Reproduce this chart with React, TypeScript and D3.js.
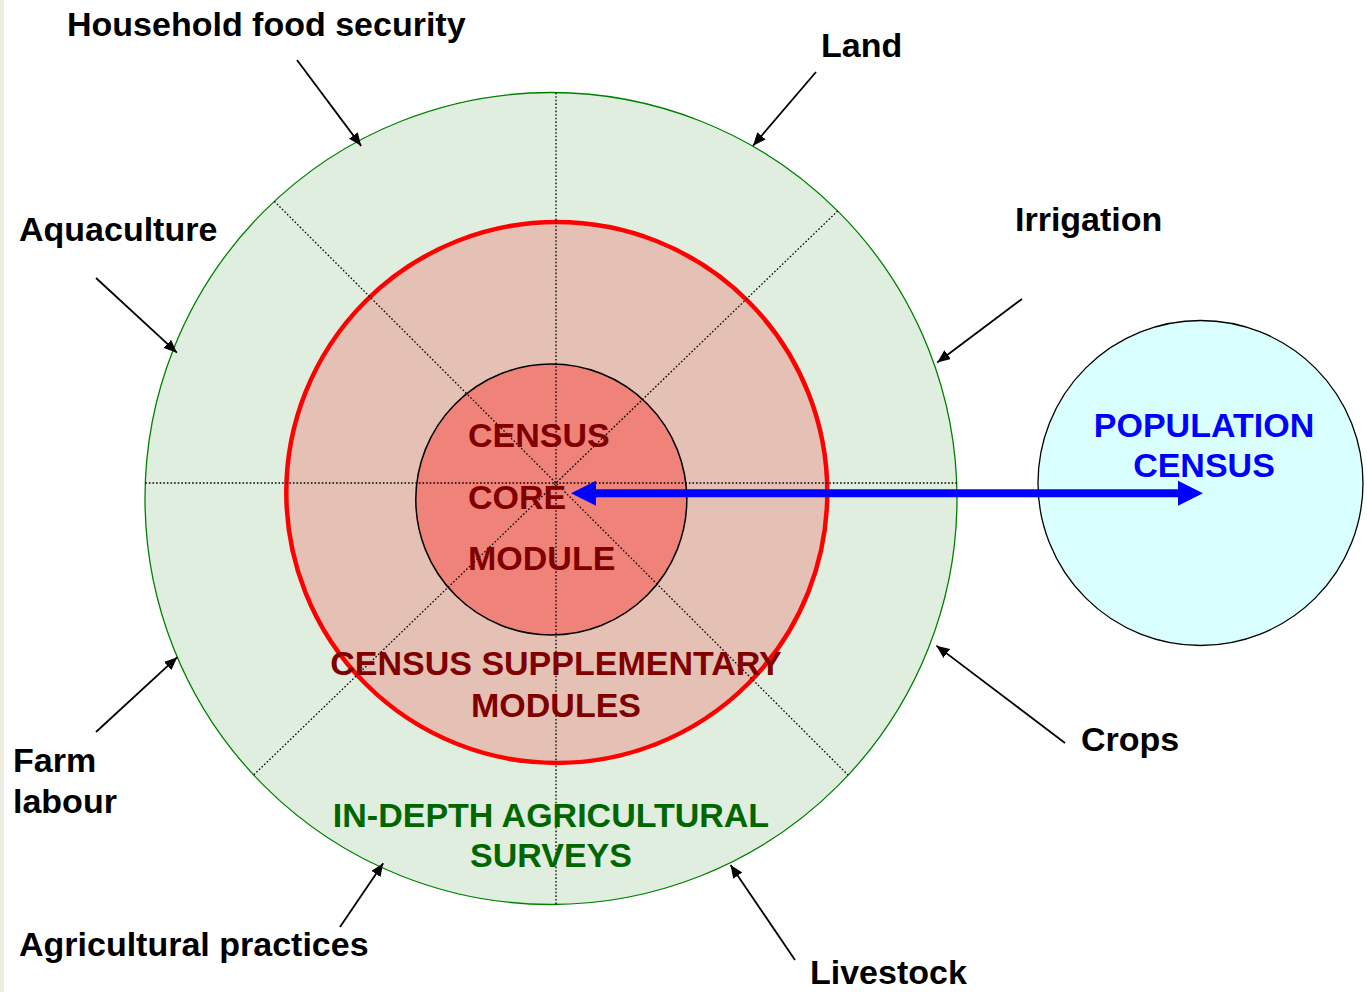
import * as d3 from "d3";

// survey topics placed around the outer ring ("\n" = line break)
const topics = [
  "Household food security",
  "Land",
  "Irrigation",
  "Crops",
  "Livestock",
  "Agricultural practices",
  "Farm\nlabour",
  "Aquaculture",
];
// where each topic arrow ends, as angle (deg, clockwise from east) and distance from ring centre
const topicAngles = [-118.3, -60.2, -19.4, 20.9, 63.9, 114.7, 157.0, -158.7];
const topicReach = [400.5, 406.5, 409.5, 412.5, 408, 401.5, 406, 401.5];
const arrowTails: [number, number][] = [
  [297, 60], [816, 72], [1022, 299], [1065, 743],
  [795, 960], [340, 927], [96, 732], [96, 278],
];
const labelAnchors: [number, number][] = [
  [67, 36], [821, 57], [1015, 231], [1081, 751],
  [810, 984], [19, 956], [13, 772], [19, 241],
];

const coreLines = ["CENSUS", "CORE", "MODULE"];
const supplementLines = ["CENSUS SUPPLEMENTARY", "MODULES"];
const surveyLines = ["IN-DEPTH AGRICULTURAL", "SURVEYS"];
const populationLines = ["POPULATION", "CENSUS"];

// sector dividers through the hub
const dividerAngles = [0, 45, 90, 136];

const W = 1367;
const H = 992;
const FONT = "'Liberation Sans', Arial, Helvetica, sans-serif";

const outer = { cx: 551, cy: 498.5, r: 406 };
const middle = { cx: 556.8, cy: 492.5, r: 270.5 };
const core = { cx: 551.3, cy: 499.5, r: 135.5 };
const pop = { cx: 1200.5, cy: 483, r: 162.5 };
const hub = [556, 483];

const rad = (deg: number) => (deg * Math.PI) / 180;

// where a ray from the hub leaves the outer ring
function rayToRing(dx: number, dy: number): [number, number] {
  const px = hub[0] - outer.cx;
  const py = hub[1] - outer.cy;
  const b = px * dx + py * dy;
  const c = px * px + py * py - outer.r * outer.r;
  const t = -b + Math.sqrt(b * b - c);
  return [hub[0] + t * dx, hub[1] + t * dy];
}

export default function App() {
  const line = d3.line();

  const dividers = dividerAngles.map((a) => {
    const dx = Math.cos(rad(a));
    const dy = Math.sin(rad(a));
    return line([rayToRing(-dx, -dy), rayToRing(dx, dy)]) as string;
  });

  const arrows = topicAngles.map((a, i) => {
    const tip: [number, number] = [
      outer.cx + topicReach[i] * Math.cos(rad(a)),
      outer.cy + topicReach[i] * Math.sin(rad(a)),
    ];
    return line([arrowTails[i], tip]) as string;
  });

  // double-headed blue arrow from the core to the population census
  const ay = 493.3;
  const x0 = 571;
  const x1 = 1203;
  const head = 25;
  const hw = 12.5;
  const sw = 4;
  const blueArrow = line([
    [x0, ay],
    [x0 + head, ay - hw],
    [x0 + head, ay - sw],
    [x1 - head, ay - sw],
    [x1 - head, ay - hw],
    [x1, ay],
    [x1 - head, ay + hw],
    [x1 - head, ay + sw],
    [x0 + head, ay + sw],
    [x0 + head, ay + hw],
  ]) + "Z";

  const textStyle = {
    fontFamily: FONT,
    fontWeight: 700,
    fontSize: 34,
  } as const;

  return (
    <svg
      width={W}
      height={H}
      viewBox={`0 0 ${W} ${H}`}
      style={{ position: "absolute", left: 0, top: 0, display: "block", background: "#fff" }}
    >
      <defs>
        <marker
          id="head"
          markerUnits="userSpaceOnUse"
          markerWidth={14}
          markerHeight={12}
          refX={13}
          refY={5.5}
          orient="auto"
        >
          <path d="M0,0 L13,5.5 L0,11 Z" fill="#000" />
        </marker>
      </defs>

      <rect x={0} y={0} width={4} height={H} fill="#ececE2" />

      <circle cx={outer.cx} cy={outer.cy} r={outer.r} fill="#e0eee0" stroke="#008000" strokeWidth={1.3} />
      <circle cx={middle.cx} cy={middle.cy} r={middle.r} fill="#e5c1b5" stroke="#ff0000" strokeWidth={4.5} />
      <circle cx={core.cx} cy={core.cy} r={core.r} fill="#f08379" stroke="#000" strokeWidth={1.5} />

      {dividers.map((d, i) => (
        <path key={i} d={d} stroke="#000" strokeWidth={1.3} strokeDasharray="1.6,2" fill="none" />
      ))}

      <circle cx={pop.cx} cy={pop.cy} r={pop.r} fill="#d9ffff" stroke="#000" strokeWidth={1.3} />

      <g fill="#800000" style={textStyle}>
        {coreLines.map((t, i) => (
          <text key={t} x={468} y={447 + i * 61.5}>{t}</text>
        ))}
        {supplementLines.map((t, i) => (
          <text key={t} x={556} y={675 + i * 42} textAnchor="middle">{t}</text>
        ))}
      </g>
      <g fill="#006600" style={textStyle}>
        {surveyLines.map((t, i) => (
          <text key={t} x={551} y={827 + i * 40} textAnchor="middle">{t}</text>
        ))}
      </g>
      <g fill="#0000ff" style={textStyle}>
        {populationLines.map((t, i) => (
          <text key={t} x={1204} y={437 + i * 40} textAnchor="middle">{t}</text>
        ))}
      </g>

      <path d={blueArrow} fill="#0000ff" />

      {arrows.map((d, i) => (
        <path key={i} d={d} stroke="#000" strokeWidth={1.8} fill="none" markerEnd="url(#head)" />
      ))}

      <g fill="#000" style={textStyle}>
        {topics.map((t, i) => (
          <text key={t} x={labelAnchors[i][0]} y={labelAnchors[i][1]}>
            {t.split("\n").map((s, j) => (
              <tspan key={j} x={labelAnchors[i][0]} dy={j === 0 ? 0 : 41}>{s}</tspan>
            ))}
          </text>
        ))}
      </g>
    </svg>
  );
}
